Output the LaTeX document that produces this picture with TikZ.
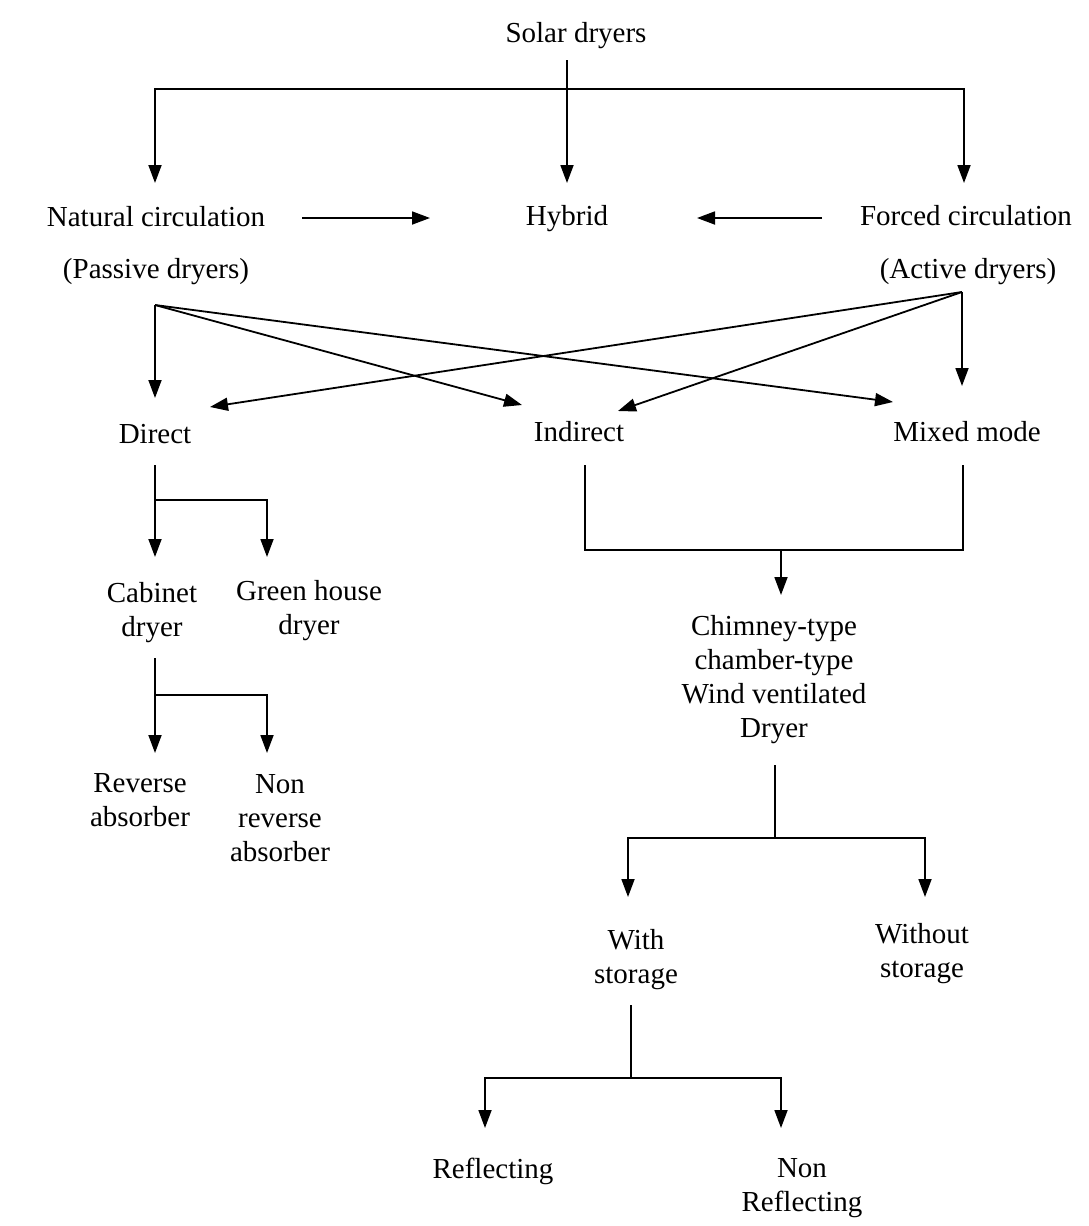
\documentclass[tikz,border=0pt]{standalone}
\usepackage{fontspec}
\setmainfont{Liberation Serif}
\usetikzlibrary{arrows.meta,calc}
\begin{document}
\begin{tikzpicture}[x=1pt,y=-1pt,
  lbl/.style={inner sep=0pt,align=center,font=\fontsize{29}{34}\selectfont},
  conn/.style={line width=1.8pt,black},
  arr/.style={conn,-{Triangle[length=18pt,width=13pt]}}]
\useasboundingbox[fill=white] (0,0) rectangle (1089,1226);
% nodes
\node[lbl] (solar) at (576,36) {Solar dryers};
\node[lbl] (natural) at (156,217) {Natural circulation};
\node[lbl] (passive) at (156,272) {(Passive dryers)};
\node[lbl] (hybrid) at (567,219) {Hybrid};
\node[lbl] (forced) at (966,216) {Forced circulation};
\node[lbl] (active) at (968,272) {(Active dryers)};
\node[lbl] (direct) at (155,434) {Direct};
\node[lbl] (indirect) at (579,432) {Indirect};
\node[lbl] (mixed) at (967,432) {Mixed mode};
\node[lbl] (cabinet) at (152,613) {Cabinet\\dryer};
\node[lbl] (green) at (309,611) {Green house\\dryer};
\node[lbl] (reverse) at (140,800) {Reverse\\absorber};
\node[lbl] (nonrev) at (280,818) {Non\\reverse\\absorber};
\node[lbl] (chimney) at (774,680) {Chimney-type\\chamber-type\\Wind ventilated\\Dryer};
\node[lbl] (withst) at (636,960) {With\\storage};
\node[lbl] (without) at (922,954) {Without\\storage};
\node[lbl] (reflect) at (493,1171) {Reflecting};
\node[lbl] (nonrefl) at (802,1188) {Non\\Reflecting};
% top level
\draw[arr] ($(solar)+(-9,24)$) -- ($(hybrid)+(0,-36)$);
\draw[arr] ($(solar)+(-9,53)$) -| ($(natural)+(-1,-34)$);
\draw[arr] ($(solar)+(-9,53)$) -| ($(forced)+(-2,-33)$);
\draw[arr] ($(natural)+(146,1)$) -- ($(hybrid)+(-137,-1)$);
\draw[arr] ($(forced)+(-144,2)$) -- ($(hybrid)+(130,-1)$);
% passive fan
\draw[arr] ($(passive)+(-1,33)$) -- ($(direct)+(0,-36)$);
\draw[arr] ($(passive)+(-1,33)$) -- ($(indirect)+(-57,-27)$);
\draw[arr] ($(passive)+(-1,33)$) -- ($(mixed)+(-74,-30)$);
% active fan
\draw[arr] ($(active)+(-6,20)$) -- ($(mixed)+(-5,-46)$);
\draw[arr] ($(active)+(-6,20)$) -- ($(indirect)+(39,-21)$);
\draw[arr] ($(active)+(-6,20)$) -- ($(direct)+(55,-27)$);
% direct tree
\draw[arr] ($(direct)+(0,31)$) -- ($(cabinet)+(3,-56)$);
\draw[arr] ($(direct)+(0,66)$) -| ($(green)+(-42,-54)$);
% cabinet tree
\draw[arr] ($(cabinet)+(3,45)$) -- ($(reverse)+(15,-47)$);
\draw[arr] ($(cabinet)+(3,82)$) -| ($(nonrev)+(-13,-65)$);
% indirect / mixed join
\draw[conn] ($(indirect)+(6,33)$) |- ($(mixed)+(-4,118)$) -- ($(mixed)+(-4,33)$);
\draw[arr] ($(chimney)+(7,-130)$) -- ($(chimney)+(7,-85)$);
% chimney tree
\draw[conn] ($(chimney)+(1,85)$) -- ($(chimney)+(1,158)$);
\draw[arr] ($(chimney)+(1,158)$) -| ($(withst)+(-8,-63)$);
\draw[arr] ($(chimney)+(1,158)$) -| ($(without)+(3,-57)$);
% storage tree
\draw[conn] ($(withst)+(-5,45)$) -- ($(withst)+(-5,118)$);
\draw[arr] ($(withst)+(-5,118)$) -| ($(reflect)+(-8,-43)$);
\draw[arr] ($(withst)+(-5,118)$) -| ($(nonrefl)+(-21,-60)$);
\end{tikzpicture}
\end{document}
